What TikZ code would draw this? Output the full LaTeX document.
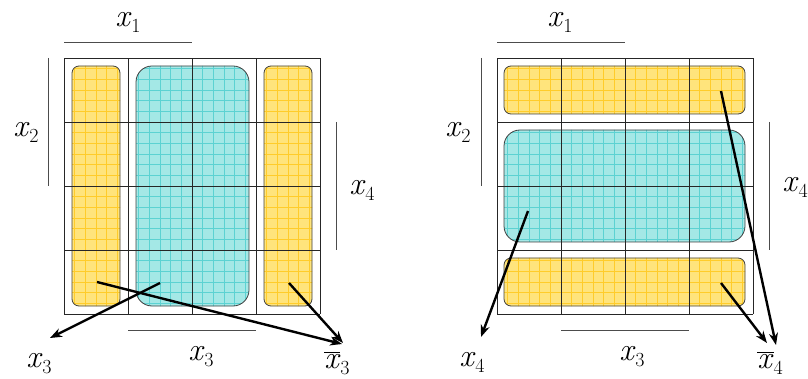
\documentclass[tikz,border=0pt]{standalone}
\usepackage{fontspec}
\usetikzlibrary{arrows.meta}
\definecolor{gold}{HTML}{FFE47C}
\definecolor{goldline}{HTML}{FFCC2A}
\definecolor{aqua}{HTML}{A4E8E6}
\definecolor{aqualine}{HTML}{5CD2D2}
\newcommand{\xl}[1]{\textit{x}\raisebox{-6pt}{\fontsize{20}{20}\selectfont #1}}
\newcommand{\xbl}[1]{$\overline{\hbox{\textit{x}}}$\raisebox{-6pt}{\fontsize{20}{20}\selectfont #1}}
% #1 fill, #2 grid colour, #3 radius, #4 the rectangle
\newcommand{\grp}[4]{%
  \fill[#1,rounded corners=#3] #4;
  \begin{scope}\clip[rounded corners=#3] #4;
    \draw[#2,line width=0.7pt,step=10.6667pt] (0,0) grid (256,256);
  \end{scope}
  \draw[black!75,line width=0.8pt,rounded corners=#3] #4;}

\begin{document}
\begin{tikzpicture}[x=1pt,y=-1pt,
  lbl/.style={anchor=base,inner sep=0pt,font=\fontsize{32}{38}\selectfont},
  bar/.style={black!70,line width=0.9pt},
  cell/.style={black!85,line width=0.8pt},
  arr/.style={-{Stealth[length=12pt,width=9pt]},line width=2.4pt}]
\useasboundingbox (0,0) rectangle (808,379);

% left map
\begin{scope}[shift={(64,58)}]
\grp{gold}{goldline}{7}{(8,8) rectangle (56,248)}
\grp{aqua}{aqualine}{16}{(72,8) rectangle (185,248)}
\grp{gold}{goldline}{7}{(200,8) rectangle (248,248)}
\draw[cell] (0,0) grid[step=64pt] (256,256);
\end{scope}
\draw[bar] (64,42) -- (192,42);
\draw[bar] (48,58) -- (48,186);
\draw[bar] (336,122) -- (336,250);
\draw[bar] (128,330) -- (256,330);
\node[lbl] (ax1) at (128,27) {\xl1};
\node[lbl] (ax2) at (26,137) {\xl2};
\node[lbl] (ax4) at (362,195) {\xl4};
\node[lbl] (ax3) at (201,360) {\xl3};
\node[lbl] (ax3l) at (39,367) {\xl3};
\node[lbl] (ax3b) at (337,368) {\xbl3};
\coordinate (sA) at (97,282); \coordinate (sB) at (160,283); \coordinate (sC) at (289,283);
\coordinate (tA) at (342,344); \coordinate (tB) at (50,338); \coordinate (tC) at (343,343);
\draw[arr] (sA) -- (tA);
\draw[arr] (sB) -- (tB);
\draw[arr] (sC) -- (tC);

% right map
\begin{scope}[shift={(497,58)}]
\grp{gold}{goldline}{7}{(7,8) rectangle (248,56)}
\grp{aqua}{aqualine}{16}{(7,72) rectangle (248,184)}
\grp{gold}{goldline}{7}{(7,200) rectangle (248,248)}
\draw[cell] (0,0) grid[step=64pt] (256,256);
\end{scope}
\draw[bar] (497,42) -- (625,42);
\draw[bar] (481,58) -- (481,186);
\draw[bar] (769,122) -- (769,250);
\draw[bar] (561,330) -- (689,330);
\node[lbl] (bx1) at (560,27) {\xl1};
\node[lbl] (bx2) at (458,137) {\xl2};
\node[lbl] (bx4) at (795,192) {\xl4};
\node[lbl] (bx3) at (632,360) {\xl3};
\node[lbl] (bx4l) at (472,366) {\xl4};
\node[lbl] (bx4b) at (770,368) {\xbl4};
\coordinate (sD) at (528,211); \coordinate (sE) at (721,91); \coordinate (sF) at (721,283);
\coordinate (tD) at (481,337); \coordinate (tE) at (776,345); \coordinate (tF) at (767,343);
\draw[arr] (sD) -- (tD);
\draw[arr] (sE) -- (tE);
\draw[arr] (sF) -- (tF);
\end{tikzpicture}
\end{document}
